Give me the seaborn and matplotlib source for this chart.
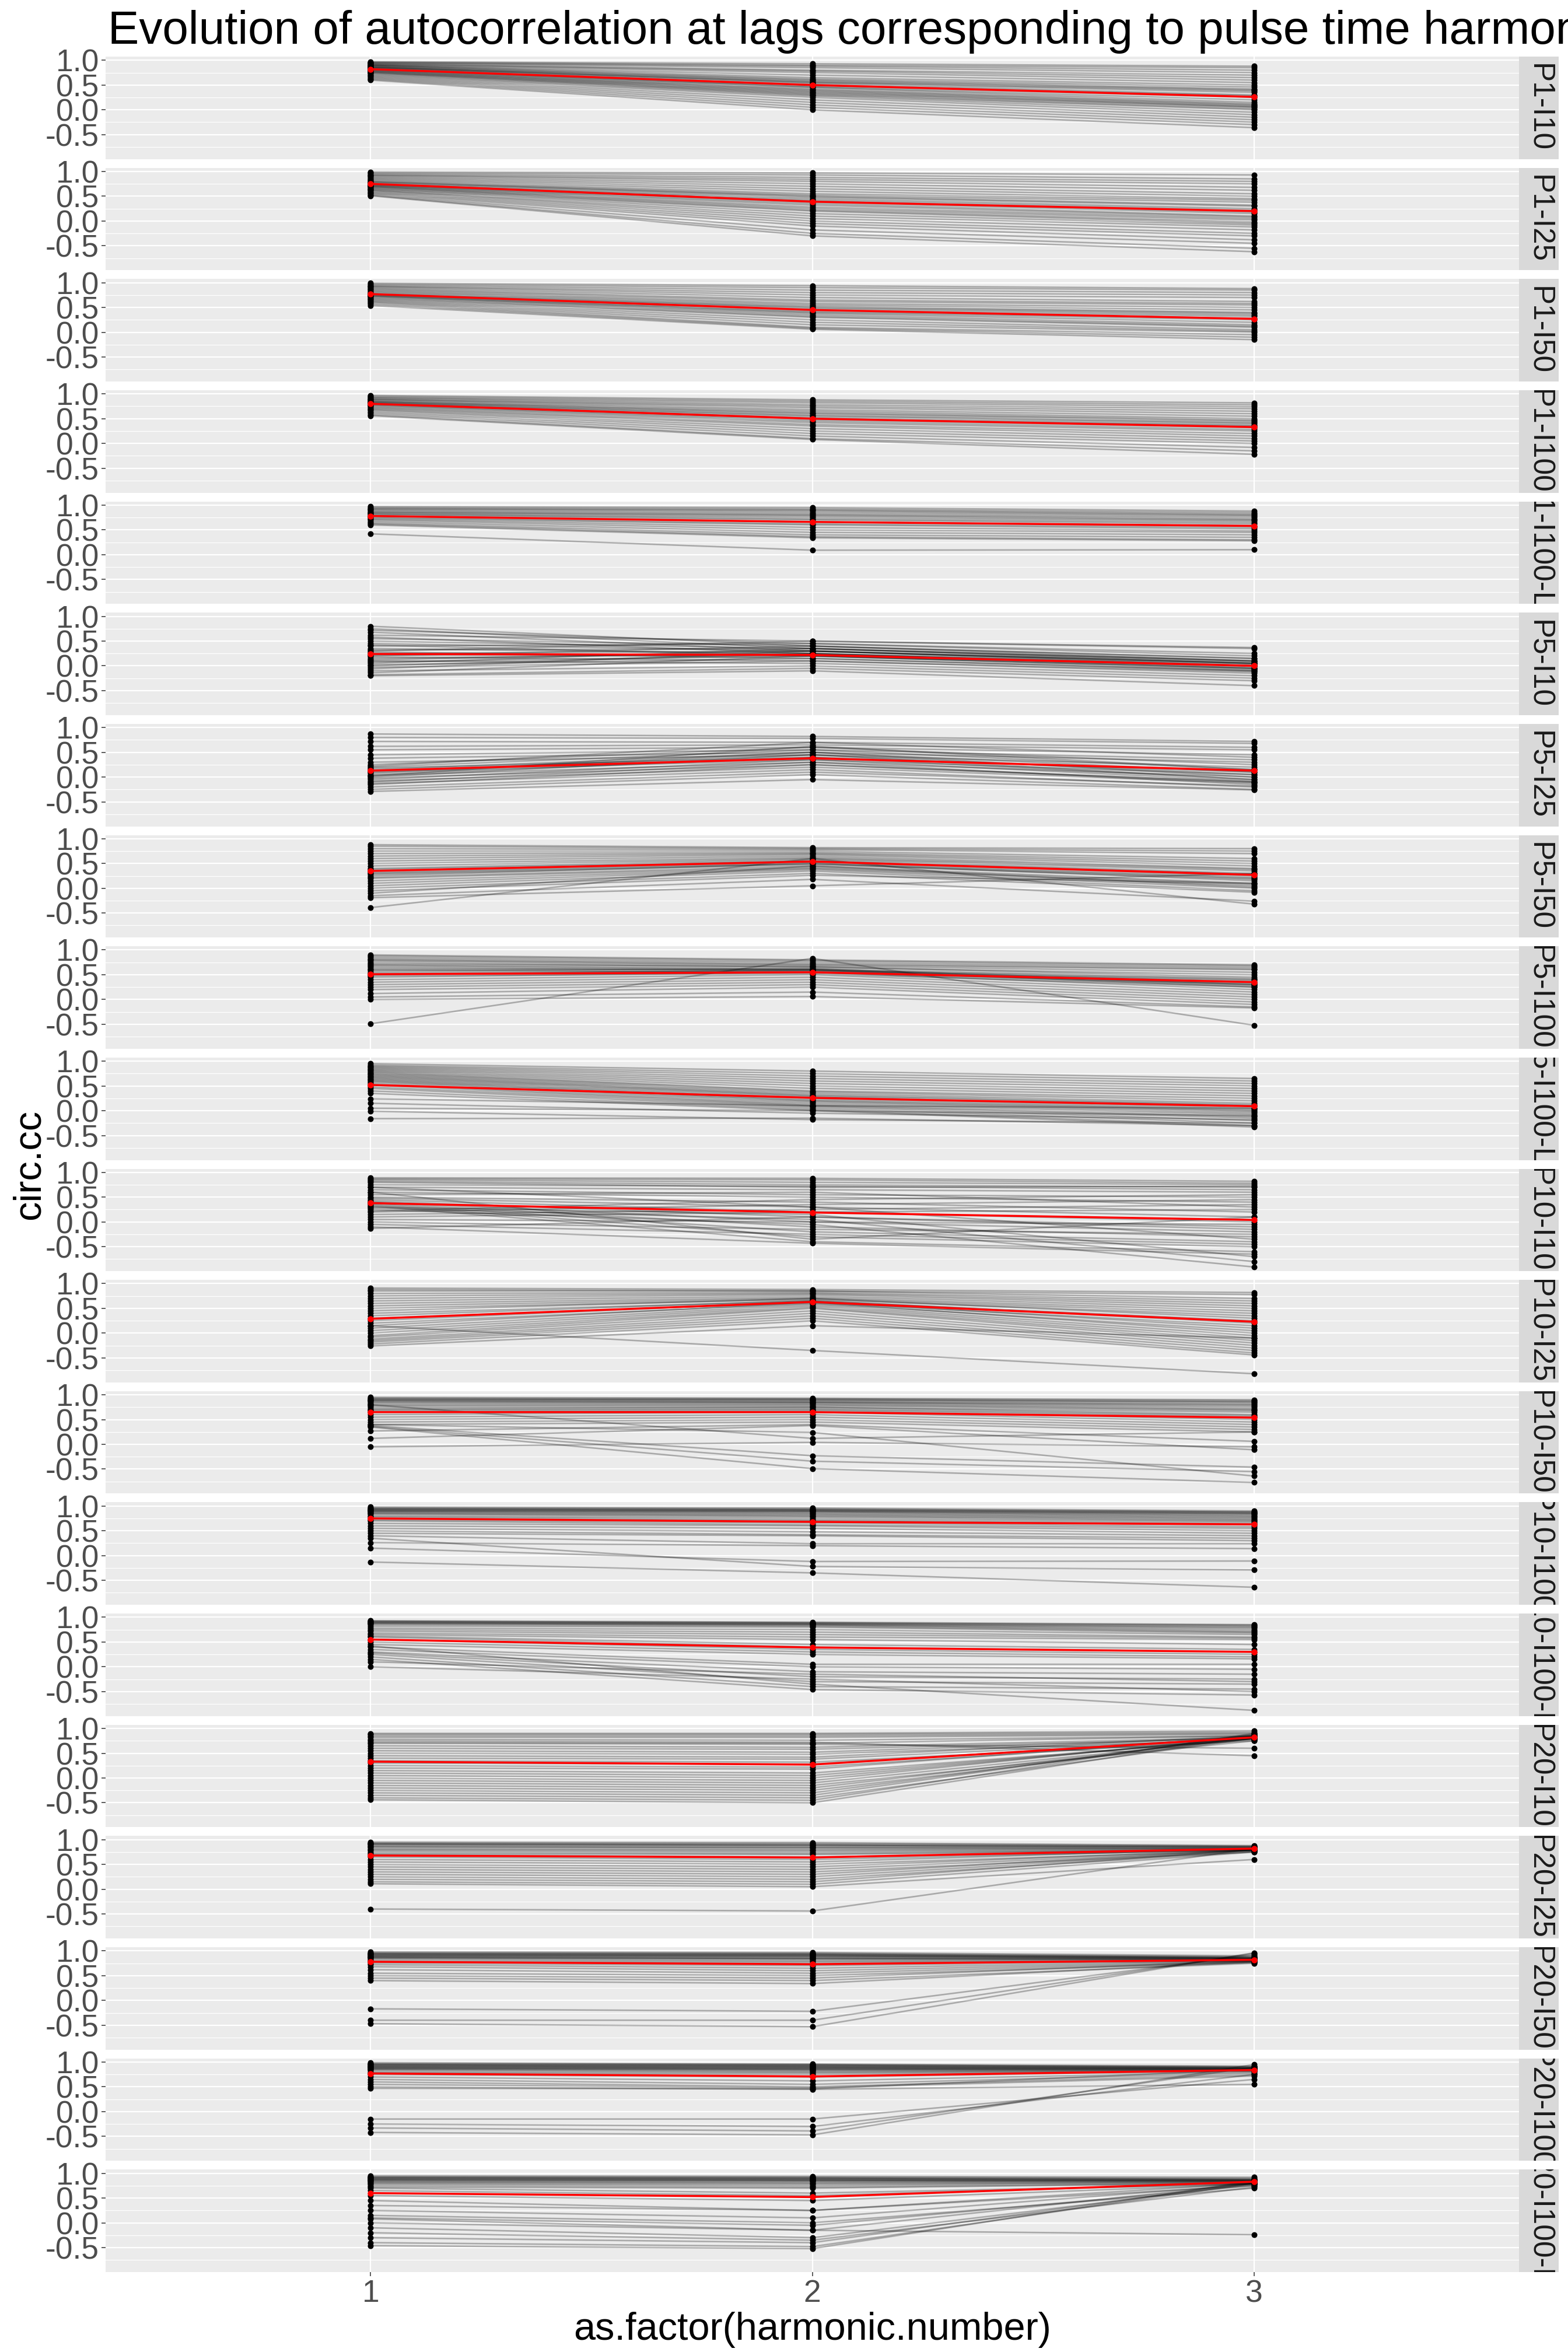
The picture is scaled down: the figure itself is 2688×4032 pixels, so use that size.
import numpy as np
import pandas as pd
import matplotlib
matplotlib.use("Agg")
import matplotlib.pyplot as plt
from matplotlib.ticker import FixedLocator
import seaborn as sns

plt.rcParams["font.family"] = ["Liberation Sans", "DejaVu Sans"]
plt.rcParams["axes.unicode_minus"] = False

TITLE = "Evolution of autocorrelation at lags corresponding to pulse time harmonics"
X_LABEL = "as.factor(harmonic.number)"
Y_LABEL = "circ.cc"
HARMONICS = [1, 2, 3]
Y_TICKS = [-0.5, 0.0, 0.5, 1.0]
Y_TICK_LABELS = ["-0.5", "0.0", "0.5", "1.0"]

LABELS = ["P1-I10", "P1-I25", "P1-I50", "P1-I100", "P1-I100-LT",
          "P5-I10", "P5-I25", "P5-I50", "P5-I100", "P5-I100-LT",
          "P10-I10", "P10-I25", "P10-I50", "P10-I100", "P10-I100-LT",
          "P20-I10", "P20-I25", "P20-I50", "P20-I100", "P20-I100-LT"]

# each tuple: circ.cc at harmonic 1, 2, 3 for one recording
P1_I10 = [(0.97, 0.93, 0.88), (0.96, 0.90, 0.85), (0.95, 0.88, 0.80), (0.94, 0.85, 0.75),
          (0.93, 0.80, 0.70), (0.92, 0.78, 0.65), (0.91, 0.75, 0.60), (0.90, 0.70, 0.55),
          (0.90, 0.65, 0.50), (0.89, 0.62, 0.46), (0.88, 0.60, 0.42), (0.87, 0.58, 0.40),
          (0.86, 0.56, 0.38), (0.86, 0.55, 0.35), (0.85, 0.53, 0.30), (0.84, 0.50, 0.28),
          (0.83, 0.48, 0.25), (0.82, 0.46, 0.20), (0.81, 0.45, 0.15), (0.80, 0.42, 0.12),
          (0.79, 0.40, 0.10), (0.78, 0.38, 0.08), (0.77, 0.36, 0.06), (0.76, 0.34, 0.05),
          (0.75, 0.32, 0.02), (0.74, 0.30, 0.00), (0.72, 0.28, -0.05), (0.70, 0.25, -0.10),
          (0.68, 0.20, -0.15), (0.66, 0.15, -0.20), (0.64, 0.10, -0.25), (0.62, 0.05, -0.30),
          (0.60, 0.00, -0.36)]
P1_I25 = [(0.99, 0.97, 0.93), (0.97, 0.93, 0.85), (0.95, 0.88, 0.80), (0.93, 0.84, 0.75),
          (0.92, 0.80, 0.68), (0.90, 0.75, 0.62), (0.88, 0.70, 0.55), (0.86, 0.65, 0.50),
          (0.84, 0.60, 0.45), (0.82, 0.55, 0.42), (0.80, 0.52, 0.38), (0.79, 0.50, 0.32),
          (0.78, 0.48, 0.30), (0.76, 0.45, 0.25), (0.75, 0.42, 0.22), (0.74, 0.40, 0.18),
          (0.73, 0.38, 0.15), (0.72, 0.35, 0.10), (0.71, 0.32, 0.08), (0.70, 0.28, 0.05),
          (0.69, 0.25, 0.02), (0.68, 0.22, -0.02), (0.66, 0.20, -0.05), (0.65, 0.15, -0.08),
          (0.63, 0.10, -0.12), (0.62, 0.05, -0.18), (0.60, 0.00, -0.25), (0.58, -0.05, -0.30),
          (0.56, -0.10, -0.38), (0.54, -0.18, -0.45), (0.52, -0.25, -0.55), (0.51, -0.30, -0.62)]
P1_I50 = [(0.99, 0.94, 0.88), (0.97, 0.90, 0.85), (0.95, 0.85, 0.80), (0.93, 0.80, 0.75),
          (0.92, 0.75, 0.70), (0.90, 0.70, 0.62), (0.88, 0.65, 0.58), (0.86, 0.62, 0.55),
          (0.84, 0.58, 0.50), (0.82, 0.55, 0.45), (0.80, 0.52, 0.40), (0.78, 0.50, 0.38),
          (0.77, 0.48, 0.35), (0.76, 0.45, 0.32), (0.75, 0.42, 0.28), (0.74, 0.40, 0.25),
          (0.73, 0.38, 0.20), (0.72, 0.35, 0.15), (0.70, 0.32, 0.12), (0.68, 0.30, 0.10),
          (0.66, 0.25, 0.05), (0.64, 0.20, 0.02), (0.62, 0.15, 0.00), (0.60, 0.10, -0.05),
          (0.57, 0.08, -0.10), (0.54, 0.06, -0.15)]
P1_I100 = [(0.97, 0.88, 0.82), (0.95, 0.85, 0.78), (0.93, 0.82, 0.74), (0.92, 0.78, 0.70),
           (0.90, 0.75, 0.65), (0.89, 0.72, 0.60), (0.88, 0.68, 0.55), (0.86, 0.65, 0.50),
           (0.85, 0.62, 0.47), (0.84, 0.60, 0.45), (0.83, 0.57, 0.42), (0.82, 0.55, 0.40),
           (0.81, 0.52, 0.37), (0.80, 0.50, 0.35), (0.78, 0.48, 0.32), (0.77, 0.45, 0.28),
           (0.75, 0.42, 0.25), (0.73, 0.38, 0.20), (0.71, 0.35, 0.15), (0.69, 0.30, 0.10),
           (0.67, 0.25, 0.05), (0.64, 0.20, 0.00), (0.61, 0.15, -0.08), (0.58, 0.10, -0.15),
           (0.56, 0.08, -0.22)]
P1_I100_LT = [(0.97, 0.95, 0.88), (0.95, 0.92, 0.85), (0.93, 0.90, 0.82), (0.92, 0.88, 0.80),
              (0.90, 0.85, 0.78), (0.88, 0.82, 0.75), (0.86, 0.80, 0.72), (0.85, 0.78, 0.70),
              (0.83, 0.75, 0.68), (0.82, 0.72, 0.65), (0.80, 0.70, 0.62), (0.78, 0.66, 0.58),
              (0.76, 0.62, 0.55), (0.74, 0.60, 0.52), (0.72, 0.55, 0.48), (0.70, 0.50, 0.45),
              (0.67, 0.45, 0.40), (0.64, 0.40, 0.35), (0.62, 0.36, 0.30), (0.60, 0.34, 0.28),
              (0.42, 0.09, 0.10)]
P5_I10 = [(0.80, 0.40, 0.10), (0.75, 0.35, 0.05), (0.72, 0.45, 0.20), (0.68, 0.30, 0.00),
          (0.62, 0.50, 0.35), (0.58, 0.25, -0.05), (0.55, 0.40, 0.15), (0.50, 0.35, 0.10),
          (0.45, 0.30, 0.05), (0.42, 0.20, -0.05), (0.40, 0.45, 0.25), (0.35, 0.25, 0.00),
          (0.32, 0.35, 0.08), (0.28, 0.15, -0.10), (0.25, 0.30, 0.05), (0.22, 0.20, 0.00),
          (0.20, 0.40, 0.15), (0.18, 0.10, -0.15), (0.15, 0.25, -0.02), (0.12, 0.30, 0.02),
          (0.10, 0.05, -0.20), (0.08, 0.20, -0.05), (0.05, 0.35, 0.10), (0.02, 0.15, -0.10),
          (0.00, 0.25, 0.00), (-0.03, 0.10, -0.12), (-0.06, 0.30, 0.05), (-0.10, 0.00, -0.25),
          (-0.14, 0.20, -0.08), (-0.18, -0.05, -0.30), (-0.20, -0.10, -0.40), (0.30, 0.50, 0.37)]
P5_I25 = [(0.87, 0.82, 0.72), (0.80, 0.78, 0.68), (0.72, 0.70, 0.60), (0.62, 0.65, 0.55),
          (0.55, 0.60, 0.45), (0.45, 0.55, 0.35), (0.38, 0.50, 0.30), (0.30, 0.45, 0.20),
          (0.25, 0.60, 0.25), (0.20, 0.55, 0.15), (0.18, 0.40, 0.10), (0.15, 0.50, 0.10),
          (0.12, 0.45, 0.05), (0.10, 0.35, 0.05), (0.08, 0.50, 0.00), (0.05, 0.40, -0.05),
          (0.03, 0.30, 0.00), (0.00, 0.45, -0.05), (-0.02, 0.25, -0.10), (-0.05, 0.35, -0.08),
          (-0.08, 0.20, -0.12), (-0.10, 0.30, -0.15), (-0.13, 0.15, -0.20), (-0.15, 0.25, -0.10),
          (-0.20, 0.10, -0.18), (-0.25, 0.05, -0.25), (-0.29, -0.05, -0.26), (0.02, 0.62, 0.15),
          (0.22, 0.70, 0.40)]
P5_I50 = [(0.88, 0.82, 0.80), (0.85, 0.80, 0.75), (0.80, 0.78, 0.70), (0.75, 0.75, 0.60),
          (0.70, 0.72, 0.55), (0.65, 0.70, 0.50), (0.60, 0.68, 0.45), (0.55, 0.65, 0.40),
          (0.50, 0.62, 0.38), (0.45, 0.60, 0.35), (0.40, 0.58, 0.30), (0.38, 0.55, 0.28),
          (0.35, 0.55, 0.25), (0.32, 0.52, 0.22), (0.30, 0.50, 0.20), (0.28, 0.48, 0.18),
          (0.25, 0.50, 0.15), (0.22, 0.45, 0.10), (0.20, 0.42, 0.08), (0.15, 0.40, 0.05),
          (0.10, 0.38, 0.00), (0.05, 0.35, -0.05), (0.00, 0.30, -0.08), (-0.05, 0.26, 0.10),
          (-0.10, 0.45, 0.02), (-0.15, 0.18, -0.26), (-0.19, 0.05, 0.30), (-0.39, 0.60, -0.32)]
P5_I100 = [(0.90, 0.80, 0.70), (0.88, 0.78, 0.68), (0.85, 0.75, 0.65), (0.82, 0.72, 0.62),
           (0.80, 0.70, 0.60), (0.78, 0.68, 0.55), (0.75, 0.65, 0.50), (0.72, 0.66, 0.45),
           (0.70, 0.62, 0.42), (0.68, 0.60, 0.40), (0.65, 0.58, 0.38), (0.62, 0.60, 0.35),
           (0.60, 0.55, 0.32), (0.58, 0.62, 0.30), (0.55, 0.58, 0.30), (0.52, 0.55, 0.28),
           (0.50, 0.60, 0.25), (0.48, 0.52, 0.25), (0.45, 0.55, 0.20), (0.40, 0.50, 0.15),
           (0.35, 0.45, 0.10), (0.30, 0.40, 0.05), (0.25, 0.35, 0.00), (0.20, 0.30, -0.05),
           (0.12, 0.25, -0.10), (0.05, 0.15, -0.15), (0.00, 0.06, -0.17), (-0.49, 0.83, -0.52)]
P5_I100_LT = [(0.95, 0.80, 0.65), (0.92, 0.75, 0.60), (0.90, 0.70, 0.55), (0.88, 0.65, 0.50),
              (0.86, 0.60, 0.45), (0.84, 0.55, 0.40), (0.82, 0.50, 0.35), (0.80, 0.45, 0.30),
              (0.78, 0.40, 0.25), (0.76, 0.38, 0.20), (0.74, 0.35, 0.15), (0.72, 0.32, 0.12),
              (0.70, 0.30, 0.10), (0.68, 0.28, 0.05), (0.66, 0.25, 0.02), (0.64, 0.22, 0.00),
              (0.62, 0.20, -0.02), (0.60, 0.18, -0.05), (0.58, 0.15, -0.08), (0.55, 0.12, -0.12),
              (0.52, 0.10, -0.15), (0.48, 0.08, -0.20), (0.45, 0.05, -0.25), (0.40, 0.02, -0.30),
              (0.35, 0.00, -0.33), (0.24, 0.10, 0.05), (0.15, -0.05, -0.18), (0.05, 0.00, -0.10),
              (-0.01, -0.18, -0.25), (-0.16, -0.15, -0.30)]
P10_I10 = [(0.89, 0.88, 0.82), (0.87, 0.85, 0.78), (0.85, 0.80, 0.75), (0.82, 0.75, 0.70),
           (0.80, 0.70, 0.72), (0.75, 0.72, 0.65), (0.70, 0.65, 0.60), (0.65, 0.55, 0.50),
           (0.60, 0.50, 0.40), (0.55, 0.60, 0.30), (0.50, 0.40, 0.20), (0.48, 0.30, 0.10),
           (0.45, 0.20, 0.00), (0.42, 0.10, -0.10), (0.40, 0.00, -0.20), (0.38, -0.10, -0.30),
           (0.36, -0.20, -0.40), (0.34, -0.30, -0.50), (0.32, -0.40, -0.60), (0.30, 0.15, -0.70),
           (0.28, 0.05, -0.80), (0.25, -0.05, -0.91), (0.22, 0.45, 0.55), (0.20, 0.35, 0.45),
           (0.15, 0.25, 0.35), (0.10, 0.20, 0.25), (0.05, 0.00, -0.05), (0.00, -0.15, -0.25),
           (-0.05, -0.25, -0.45), (-0.10, -0.43, -0.65), (-0.13, 0.10, -0.15), (0.60, -0.35, 0.10),
           (0.70, 0.30, -0.35)]
P10_I25 = [(0.91, 0.88, 0.82), (0.88, 0.85, 0.78), (0.85, 0.85, 0.70), (0.80, 0.82, 0.65),
           (0.75, 0.80, 0.60), (0.70, 0.78, 0.55), (0.65, 0.75, 0.50), (0.60, 0.72, 0.45),
           (0.55, 0.70, 0.40), (0.50, 0.68, 0.35), (0.45, 0.70, 0.30), (0.40, 0.65, 0.25),
           (0.35, 0.66, 0.20), (0.30, 0.62, 0.15), (0.25, 0.64, 0.10), (0.20, 0.60, 0.05),
           (0.15, 0.62, 0.00), (0.10, 0.58, -0.05), (0.05, 0.55, -0.10), (0.00, 0.52, -0.15),
           (-0.05, 0.50, -0.20), (-0.08, 0.45, -0.25), (-0.12, 0.40, -0.30), (-0.15, 0.35, -0.35),
           (-0.18, 0.30, -0.40), (-0.22, 0.25, -0.44), (-0.26, 0.15, -0.10), (0.15, -0.35, -0.82)]
P10_I50 = [(0.95, 0.93, 0.90), (0.93, 0.92, 0.88), (0.92, 0.90, 0.86), (0.90, 0.90, 0.85),
           (0.90, 0.88, 0.82), (0.88, 0.86, 0.80), (0.87, 0.85, 0.78), (0.85, 0.84, 0.75),
           (0.83, 0.82, 0.72), (0.80, 0.80, 0.70), (0.78, 0.78, 0.68), (0.75, 0.75, 0.65),
           (0.72, 0.75, 0.60), (0.70, 0.72, 0.58), (0.68, 0.70, 0.55), (0.65, 0.68, 0.50),
           (0.60, 0.65, 0.45), (0.55, 0.60, 0.40), (0.50, 0.55, 0.35), (0.45, 0.50, 0.30),
           (0.40, 0.45, 0.25), (0.38, -0.23, -0.46), (0.36, -0.34, -0.55), (0.35, -0.49, -0.77),
           (0.40, 0.24, -0.64), (0.27, 0.40, 0.06), (0.12, 0.38, -0.11), (-0.05, 0.04, -0.05),
           (0.80, 0.12, 0.25)]
P10_I100 = [(0.98, 0.96, 0.90), (0.96, 0.94, 0.88), (0.95, 0.93, 0.88), (0.94, 0.92, 0.86),
            (0.93, 0.91, 0.85), (0.92, 0.90, 0.84), (0.91, 0.89, 0.82), (0.90, 0.88, 0.80),
            (0.89, 0.86, 0.78), (0.88, 0.84, 0.76), (0.86, 0.82, 0.74), (0.85, 0.80, 0.72),
            (0.83, 0.78, 0.70), (0.80, 0.75, 0.68), (0.78, 0.72, 0.65), (0.75, 0.70, 0.62),
            (0.72, 0.66, 0.58), (0.70, 0.62, 0.55), (0.65, 0.60, 0.50), (0.60, 0.55, 0.45),
            (0.55, 0.48, 0.40), (0.50, 0.42, 0.35), (0.45, 0.40, 0.30), (0.40, 0.24, 0.24),
            (0.26, 0.20, 0.14), (0.35, -0.22, -0.29), (0.15, -0.12, -0.11), (-0.13, -0.35, -0.64)]
P10_I100_LT = [(0.93, 0.90, 0.85), (0.92, 0.89, 0.84), (0.91, 0.88, 0.82), (0.90, 0.87, 0.80),
               (0.89, 0.86, 0.78), (0.88, 0.85, 0.75), (0.87, 0.84, 0.72), (0.85, 0.82, 0.70),
               (0.82, 0.80, 0.68), (0.78, 0.75, 0.65), (0.75, 0.70, 0.60), (0.72, 0.65, 0.58),
               (0.68, 0.60, 0.55), (0.65, 0.55, 0.45), (0.62, 0.45, 0.35), (0.60, 0.40, 0.30),
               (0.55, 0.35, 0.25), (0.50, 0.30, 0.20), (0.45, 0.25, 0.16), (0.40, 0.05, 0.05),
               (0.35, 0.00, -0.05), (0.30, -0.10, -0.15), (0.28, -0.20, -0.25), (0.25, -0.30, -0.35),
               (0.20, -0.40, -0.45), (0.15, -0.46, -0.57), (0.10, -0.15, -0.30), (0.00, -0.25, -0.50),
               (0.42, -0.35, -0.88)]
P20_I10 = [(0.90, 0.90, 0.95), (0.88, 0.88, 0.92), (0.85, 0.85, 0.90), (0.82, 0.82, 0.88),
           (0.78, 0.76, 0.85), (0.72, 0.70, 0.85), (0.65, 0.62, 0.82), (0.60, 0.58, 0.80),
           (0.55, 0.52, 0.82), (0.50, 0.48, 0.78), (0.45, 0.42, 0.85), (0.40, 0.38, 0.80),
           (0.35, 0.32, 0.75), (0.30, 0.28, 0.82), (0.25, 0.22, 0.80), (0.20, 0.18, 0.85),
           (0.15, 0.10, 0.78), (0.10, 0.05, 0.80), (0.05, 0.00, 0.82), (0.00, -0.05, 0.85),
           (-0.05, -0.10, 0.80), (-0.10, -0.15, 0.75), (-0.15, -0.20, 0.82), (-0.20, -0.25, 0.80),
           (-0.25, -0.30, 0.85), (-0.30, -0.35, 0.88), (-0.35, -0.40, 0.80), (-0.40, -0.45, 0.90),
           (-0.44, -0.50, 0.85), (0.75, 0.72, 0.45), (0.70, 0.68, 0.60)]
P20_I25 = [(0.95, 0.94, 0.88), (0.93, 0.92, 0.87), (0.92, 0.90, 0.86), (0.91, 0.89, 0.85),
           (0.90, 0.88, 0.85), (0.88, 0.86, 0.84), (0.86, 0.84, 0.83), (0.85, 0.83, 0.82),
           (0.82, 0.80, 0.82), (0.80, 0.78, 0.81), (0.78, 0.75, 0.80), (0.75, 0.72, 0.80),
           (0.72, 0.70, 0.79), (0.70, 0.65, 0.78), (0.65, 0.60, 0.80), (0.60, 0.55, 0.82),
           (0.55, 0.50, 0.78), (0.50, 0.45, 0.80), (0.45, 0.40, 0.78), (0.40, 0.35, 0.75),
           (0.35, 0.30, 0.80), (0.30, 0.25, 0.78), (0.25, 0.20, 0.76), (0.20, 0.15, 0.80),
           (0.15, 0.10, 0.75), (0.11, 0.05, 0.60), (-0.40, -0.44, 0.82)]
P20_I50 = [(0.98, 0.97, 0.90), (0.96, 0.95, 0.88), (0.95, 0.94, 0.87), (0.94, 0.93, 0.86),
           (0.93, 0.92, 0.86), (0.92, 0.91, 0.85), (0.91, 0.90, 0.85), (0.90, 0.89, 0.84),
           (0.89, 0.88, 0.84), (0.88, 0.86, 0.83), (0.87, 0.85, 0.83), (0.86, 0.84, 0.82),
           (0.85, 0.83, 0.82), (0.83, 0.80, 0.81), (0.80, 0.78, 0.80), (0.78, 0.75, 0.80),
           (0.75, 0.70, 0.80), (0.72, 0.65, 0.79), (0.68, 0.60, 0.78), (0.62, 0.55, 0.77),
           (0.55, 0.50, 0.76), (0.50, 0.45, 0.80), (0.45, 0.40, 0.75), (0.40, 0.34, 0.78),
           (-0.17, -0.22, 0.92), (-0.40, -0.40, 0.95), (-0.47, -0.53, 0.96)]
P20_I100 = [(0.99, 0.96, 0.92), (0.97, 0.95, 0.90), (0.96, 0.94, 0.90), (0.95, 0.93, 0.89),
            (0.94, 0.92, 0.88), (0.93, 0.91, 0.88), (0.92, 0.90, 0.87), (0.91, 0.89, 0.87),
            (0.90, 0.88, 0.86), (0.89, 0.87, 0.86), (0.88, 0.86, 0.85), (0.87, 0.85, 0.85),
            (0.86, 0.84, 0.84), (0.85, 0.82, 0.84), (0.83, 0.80, 0.83), (0.80, 0.78, 0.83),
            (0.78, 0.75, 0.82), (0.75, 0.70, 0.82), (0.70, 0.62, 0.80), (0.65, 0.55, 0.78),
            (0.60, 0.50, 0.75), (0.55, 0.48, 0.72), (0.50, 0.45, 0.55), (0.47, 0.46, 0.85),
            (-0.15, -0.15, 0.65), (-0.25, -0.30, 0.75), (-0.33, -0.39, 0.90), (-0.42, -0.47, 0.95)]
P20_I100_LT = [(0.95, 0.94, 0.92), (0.93, 0.92, 0.90), (0.92, 0.91, 0.88), (0.91, 0.90, 0.88),
               (0.90, 0.89, 0.87), (0.89, 0.88, 0.86), (0.88, 0.87, 0.86), (0.87, 0.86, 0.85),
               (0.86, 0.85, 0.85), (0.85, 0.84, 0.84), (0.83, 0.82, 0.84), (0.82, 0.80, 0.83),
               (0.80, 0.78, 0.82), (0.78, 0.75, 0.82), (0.75, 0.72, 0.80), (0.72, 0.70, 0.80),
               (0.70, 0.60, 0.78), (0.65, 0.55, 0.80), (0.55, 0.45, 0.78), (0.45, 0.25, 0.75),
               (0.35, 0.25, 0.80), (0.25, 0.10, 0.78), (0.15, 0.00, 0.70), (0.10, -0.05, 0.75),
               (0.00, -0.15, 0.80), (-0.10, -0.30, 0.78), (-0.20, -0.35, 0.72), (-0.30, -0.40, 0.82),
               (-0.40, -0.48, 0.80), (-0.46, -0.52, 0.85), (0.08, -0.15, -0.24)]

# red summary line (mean per harmonic)
MEAN_P1_I10 = [0.82, 0.50, 0.26]
MEAN_P1_I25 = [0.75, 0.39, 0.20]
MEAN_P1_I50 = [0.77, 0.45, 0.27]
MEAN_P1_I100 = [0.80, 0.50, 0.33]
MEAN_P1_I100_LT = [0.78, 0.66, 0.58]
MEAN_P5_I10 = [0.24, 0.22, 0.00]
MEAN_P5_I25 = [0.13, 0.38, 0.13]
MEAN_P5_I50 = [0.35, 0.54, 0.27]
MEAN_P5_I100 = [0.51, 0.55, 0.35]
MEAN_P5_I100_LT = [0.52, 0.26, 0.09]
MEAN_P10_I10 = [0.38, 0.19, 0.04]
MEAN_P10_I25 = [0.29, 0.63, 0.23]
MEAN_P10_I50 = [0.65, 0.65, 0.54]
MEAN_P10_I100 = [0.75, 0.68, 0.63]
MEAN_P10_I100_LT = [0.55, 0.39, 0.30]
MEAN_P20_I10 = [0.33, 0.27, 0.82]
MEAN_P20_I25 = [0.68, 0.64, 0.82]
MEAN_P20_I50 = [0.78, 0.73, 0.82]
MEAN_P20_I100 = [0.77, 0.71, 0.84]
MEAN_P20_I100_LT = [0.60, 0.52, 0.83]

LINES = [P1_I10, P1_I25, P1_I50, P1_I100, P1_I100_LT,
         P5_I10, P5_I25, P5_I50, P5_I100, P5_I100_LT,
         P10_I10, P10_I25, P10_I50, P10_I100, P10_I100_LT,
         P20_I10, P20_I25, P20_I50, P20_I100, P20_I100_LT]
MEANS = [MEAN_P1_I10, MEAN_P1_I25, MEAN_P1_I50, MEAN_P1_I100, MEAN_P1_I100_LT,
         MEAN_P5_I10, MEAN_P5_I25, MEAN_P5_I50, MEAN_P5_I100, MEAN_P5_I100_LT,
         MEAN_P10_I10, MEAN_P10_I25, MEAN_P10_I50, MEAN_P10_I100, MEAN_P10_I100_LT,
         MEAN_P20_I10, MEAN_P20_I25, MEAN_P20_I50, MEAN_P20_I100, MEAN_P20_I100_LT]

# ---------------- layout (pixels of a 2688 x 4032 canvas) ----------------
W, H = 2688, 4032
DPI = 100
fig = plt.figure(figsize=(W / DPI, H / DPI), dpi=DPI, facecolor="white")

PANEL_LEFT, PANEL_RIGHT = 181, 2604
STRIP_W = 68
TOP0 = 97
PANEL_H = 175.65
PITCH = 190.65
BASE = 48
TICK_SIZE = BASE * 0.8
STRIP_SIZE = 37


def fx(px):
    return px / W


def fy(px):
    return 1 - px / H


n = len(LABELS)
for i, (label, lines, mean) in enumerate(zip(LABELS, LINES, MEANS)):
    top = TOP0 + i * PITCH
    bottom = top + PANEL_H
    ax = fig.add_axes([fx(PANEL_LEFT), fy(bottom), fx(PANEL_RIGHT - PANEL_LEFT), PANEL_H / H])
    ax.set_facecolor("#EBEBEB")
    for s in ax.spines.values():
        s.set_visible(False)

    rows = []
    for j, tri in enumerate(lines):
        for h, v in zip(HARMONICS, tri):
            rows.append({"id": j, "harmonic": h, "cc": v})
    df = pd.DataFrame(rows)

    sns.lineplot(data=df, x="harmonic", y="cc", units="id", estimator=None,
                 color="black", alpha=0.28, linewidth=1.9, ax=ax, legend=False, zorder=2)
    sns.scatterplot(data=df, x="harmonic", y="cc", color="black", s=52,
                    linewidth=0, ax=ax, legend=False, zorder=3)
    mdf = pd.DataFrame({"harmonic": HARMONICS, "cc": mean})
    sns.lineplot(data=mdf, x="harmonic", y="cc", color="red", linewidth=2.5,
                 marker="o", markersize=7.5, markeredgewidth=0, ax=ax,
                 legend=False, zorder=4)

    ax.set_xlim(0.4, 3.6)
    ax.set_ylim(-0.994, 1.074)
    ax.set_xlabel("")
    ax.set_ylabel("")
    ax.xaxis.set_major_locator(FixedLocator(HARMONICS))
    ax.yaxis.set_major_locator(FixedLocator(Y_TICKS))
    ax.yaxis.set_minor_locator(FixedLocator([-0.75, -0.25, 0.25, 0.75]))
    ax.set_yticklabels(Y_TICK_LABELS)
    ax.set_axisbelow(True)
    ax.yaxis.grid(True, which="major", color="white", linewidth=1.6)
    ax.yaxis.grid(True, which="minor", color="white", linewidth=0.8)
    ax.xaxis.grid(True, which="major", color="white", linewidth=1.6)
    ax.tick_params(axis="y", which="major", labelsize=TICK_SIZE, labelcolor="#4D4D4D",
                   color="#333333", length=5, width=1.1, pad=3)
    ax.tick_params(axis="y", which="minor", length=0)
    if i == n - 1:
        ax.set_xticklabels([str(h) for h in HARMONICS])
        ax.tick_params(axis="x", which="major", labelsize=TICK_SIZE, labelcolor="#4D4D4D",
                       color="#333333", length=5, width=1.1, pad=4)
    else:
        ax.tick_params(axis="x", which="both", length=0, labelbottom=False)

    sax = fig.add_axes([fx(PANEL_RIGHT), fy(bottom), fx(STRIP_W), PANEL_H / H])
    sax.set_facecolor("#D9D9D9")
    sax.set_xticks([])
    sax.set_yticks([])
    for s in sax.spines.values():
        s.set_visible(False)
    sax.text(0.5, 0.5, label, rotation=270, ha="center", va="center",
             fontsize=STRIP_SIZE, color="#1A1A1A", transform=sax.transAxes, clip_on=True)

panels_mid = (TOP0 + TOP0 + (n - 1) * PITCH + PANEL_H) / 2
fig.text(fx(51), fy(panels_mid), Y_LABEL, rotation=90, ha="center", va="center",
         fontsize=BASE, color="black")
fig.text(fx((PANEL_LEFT + PANEL_RIGHT) / 2), fy(3994), X_LABEL, ha="center", va="center",
         fontsize=BASE, color="black")
fig.text(fx(185), fy(75), TITLE, ha="left", va="baseline", fontsize=BASE * 1.2, color="black")

fig.savefig("out.png", dpi=DPI, facecolor="white")
